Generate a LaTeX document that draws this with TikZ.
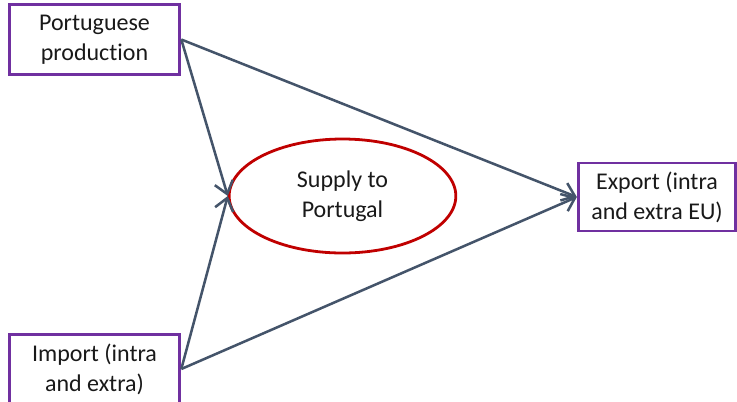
\documentclass[tikz,border=0pt]{standalone}
\usepackage{fontspec}
\setmainfont{Carlito}[RawFeature={-liga;-clig;-dlig}]
\usetikzlibrary{shapes.geometric}
\usetikzlibrary{arrows.meta}
\definecolor{boxpurple}{HTML}{7030A0}
\definecolor{ringred}{HTML}{C00000}
\definecolor{flowgray}{HTML}{44546A}

\begin{document}
\begin{tikzpicture}[
    x=0.75pt, y=-0.75pt,
    every node/.style={font=\fontsize{18}{22.5}\selectfont, text=black!90, align=center, inner sep=0pt},
    flow box/.style={draw=boxpurple, line width=2.2pt, rectangle},
    supply ring/.style={draw=ringred, line width=2.1pt, ellipse},
    flow line/.style={flowgray, line width=1.9pt, -{Straight Barb[length=9pt, width=14pt, line width=1.9pt]}}
]
    \useasboundingbox (0,0) rectangle (737,401);

    % Sources and destination
    \node[flow box, minimum width=128pt, minimum height=52pt] (production) at (94.5, 39.5) {Portuguese\\production};
    \node[flow box, minimum width=128pt, minimum height=52pt] (import) at (94.5, 369) {Import (intra\\and extra)};
    \node[flow box, minimum width=118pt, minimum height=51pt] (export) at (657, 197) {Export (intra\\and extra EU)};

    % Supply in the middle
    \node[supply ring, minimum width=170pt, minimum height=85.5pt] (supply) at (342.5, 196) {Supply to\\Portugal};

    % Flows
    \draw[flow line] (production.east) -- (supply.west);
    \draw[flow line] (import.east) -- (supply.west);
    \draw[flow line] (production.east) -- (export.west);
    \draw[flow line] (import.east) -- (export.west);

\end{tikzpicture}
\end{document}
